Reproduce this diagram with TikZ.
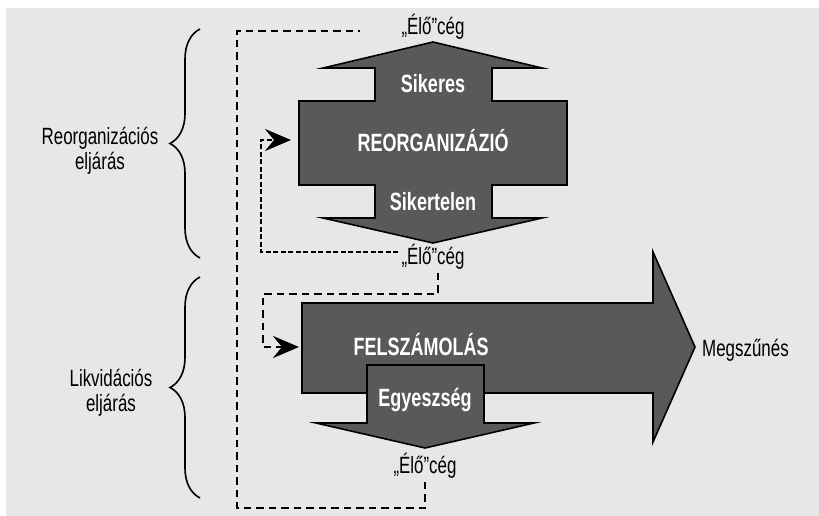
\documentclass[tikz,border=0pt]{standalone}
\usepackage{fontspec}
\setmainfont{Liberation Sans}[FakeStretch=0.72]
\usetikzlibrary{arrows.meta,decorations.pathreplacing}
\definecolor{bggrey}{HTML}{E6E7E8}
\definecolor{boxgrey}{HTML}{58595B}

\begin{document}
\begin{tikzpicture}[x=1pt,y=-1pt,
  bigarrow/.style={draw=black, fill=boxgrey, line width=1.6pt, line join=miter},
  boxtext/.style={text=white, font=\bfseries\fontsize{25}{27}\selectfont},
  plain/.style={font=\fontsize{23.5}{25}\selectfont, inner sep=3pt},
  dashloop/.style={line width=2.6pt, dash pattern=on 7.5pt off 5pt},
  finedash/.style={line width=2.4pt, dash pattern=on 5pt off 2.5pt},
  curly/.style={line width=1.6pt, decorate, decoration={brace, amplitude=30pt}},
  tip/.style={-{Stealth[length=26pt, width=22pt, inset=9pt]}}]
\useasboundingbox (0,0) rectangle (819,516);
\fill[white] (0,0) rectangle (819,516);
\fill[bggrey] (6,8) rectangle (819,516);

% reorganizacio
\draw[bigarrow] (433,42) -- (542,68) -- (492,68) -- (492,101) -- (567,101) -- (567,185)
  -- (492,185) -- (492,218) -- (542,218) -- (433,243) -- (323,218) -- (375,218)
  -- (375,185) -- (299,185) -- (299,101) -- (375,101) -- (375,68) -- (323,68) -- cycle;
% felszamolas
\draw[bigarrow] (302,303) -- (653,303) -- (653,252) -- (695,347) -- (653,442)
  -- (653,393) -- (302,393) -- cycle;
\draw[bigarrow] (367,365) -- (484,365) -- (484,423) -- (534,423) -- (425,448)
  -- (316,423) -- (367,423) -- cycle;

\node[boxtext] (sikeres) at (433,84) {Sikeres};
\node[boxtext] (reorg) at (433,141) {REORGANIZÁZIÓ};
\node[boxtext] (sikertelen) at (433,202) {Sikertelen};
\node[boxtext] (felsz) at (421,345) {FELSZÁMOLÁS};
\node[boxtext] (egyesseg) at (425,400) {Egyeszség};

\node[plain] (elotop) at (433,27) {„Élő”cég};
\node[plain] (elomid) at (433,257) {„Élő”cég};
\node[plain] (elobot) at (425,466) {„Élő”cég};
\node[plain, anchor=west] (megszunes) at (699,350) {Megszűnés};

\node[plain, align=center] (reorgproc) at (100,151) {Reorganizációs\\eljárás};
\node[plain, align=center] (likvproc) at (111,393) {Likvidációs\\eljárás};
\draw[curly] (200,258) -- (200,29);
\draw[curly] (200,498) -- (200,277);

\coordinate (reorgin) at (291,140);
\coordinate (reorgturn) at (261,140);
\coordinate (felszin) at (299,347);
\coordinate (felszturn) at (263,294);
\coordinate (outsw) at (237,508);
\coordinate (outend) at (360,31);

\draw[finedash, tip] ([yshift=5pt]elomid.west) -| (reorgturn) -- (reorgin);
\draw[dashloop, tip] ([xshift=5pt]elomid.south) |- (felszturn) |- (felszin);
\draw[dashloop] (elobot.south) |- (outsw) |- (outend);
\end{tikzpicture}
\end{document}
